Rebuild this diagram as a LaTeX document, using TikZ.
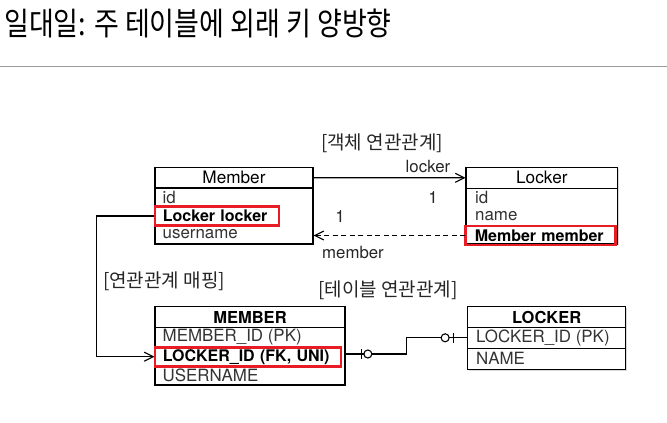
\documentclass[tikz,border=0pt]{standalone}
\usepackage{fontspec}
\setmainfont{TeX Gyre Heros}
\newfontfamily\kofont{Noto Sans CJK KR}
\usepackage{xcolor}
\usepackage{tikz}
\usetikzlibrary{arrows.meta,positioning,calc,shadows}

\definecolor{hlred}{RGB}{232,28,36}
\definecolor{rulegray}{RGB}{155,155,155}

\begin{document}
\begin{tikzpicture}[
  x=1pt, y=-1pt,
  >={Straight Barb[length=9pt,width=9pt]},
  box/.style={draw=black, line width=1.1pt, fill=white, inner sep=0pt,
    drop shadow={shadow xshift=1.2pt, shadow yshift=-1.4pt, opacity=0.3}},
  head/.style={box, font=\fontsize{17.2}{19}\selectfont},
  field/.style={anchor=west, inner sep=0pt, font=\fontsize{16.9}{19}\selectfont, text=black!80},
  hl/.style={anchor=west, draw=hlred, line width=2.6pt, inner xsep=8pt, inner ysep=0pt,
    minimum height=19pt, align=left, font=\fontsize{16}{18}\selectfont\bfseries},
  label/.style={inner sep=0pt, font=\fontsize{16.8}{19}\selectfont, text=black!85},
  kolabel/.style={inner sep=0pt, font=\kofont\fontsize{19}{22}\selectfont, text=black!85},
  assoc/.style={->, line width=1.1pt},
  link/.style={line width=1.1pt}
]
\useasboundingbox (0,0) rectangle (667,423);

% Titel und Trennlinie
\node[anchor=west, inner sep=0pt, font=\kofont\fontsize{27}{32}\selectfont] (title) at (4,23) {\scalebox{1}[1.18]{일대일: 주 테이블에 외래 키 양방향}};
\draw[rulegray, line width=1pt] (0,66) -- (667,66);

% Objekt-Seite: Member
\node[head, minimum width=158pt, minimum height=20.7pt] (memberHead) at (234,177.7) {Member};
\node[box, minimum width=158pt, minimum height=56pt] (memberBody) at (234,216) {};
\node[field] (memberId) at (162.5,197.7) {id};
\node[hl, text width=108pt] (memberLocker) at (153.5,216) {Locker locker};
\node[field] (memberName) at (162.5,234.5) {username};

% Objekt-Seite: Locker
\node[head, minimum width=151.7pt, minimum height=21pt] (lockerHead) at (541.85,177.8) {Locker};
\node[box, minimum width=151.7pt, minimum height=55.7pt] (lockerBody) at (541.85,216.15) {};
\node[field] (lockerId) at (475,197.7) {id};
\node[field] (lockerName) at (475,216) {name};
\node[hl, inner xsep=9.5pt, text width=131pt] (lockerMember) at (464,235.5) {Member member};

% Objekt-Assoziationen
\node[kolabel] (objLabel) at (382,143) {[객체 연관관계]};
\draw[assoc] (memberHead.east) -- (lockerHead.west);
\node[label] (lblLocker) at (428,166.5) {locker};
\node[label] (lblOneA) at (433,197.7) {1};
\draw[assoc, dash pattern=on 5pt off 3.5pt] (lockerBody.west |- lockerMember.center) -- (memberBody.east |- lockerMember.center);
\node[label] (lblOneB) at (340,216.7) {1};
\node[label] (lblMember) at (353,253) {member};

% Tabellen-Seite: MEMBER
\node[head, font=\fontsize{16.5}{18}\selectfont\bfseries, minimum width=190pt, minimum height=20.6pt] (memberTblHead) at (250,317) {MEMBER};
\node[box, minimum width=190pt, minimum height=57.7pt] (memberTblBody) at (250,356.15) {};
\node[field] (memberPk) at (162.5,336.7) {MEMBER\_ID (PK)};
\node[hl, text width=170pt] (memberFk) at (153.5,356.7) {LOCKER\_ID (FK, UNI)};
\node[field] (memberUser) at (162.5,375.5) {USERNAME};

% Tabellen-Seite: LOCKER
\node[head, font=\fontsize{16.5}{18}\selectfont\bfseries, minimum width=158pt, minimum height=20.6pt] (lockerTblHead) at (546.7,317) {LOCKER};
\node[box, minimum width=158pt, minimum height=21pt] (lockerPkRow) at (546.7,337.8) {};
\node[box, minimum width=158pt, minimum height=21pt] (lockerNameRow) at (546.7,358.8) {};
\node[field] (lockerPk) at (476,337.8) {LOCKER\_ID (PK)};
\node[field] (lockerNameCol) at (476,358.8) {NAME};

% Abbildung zwischen Objekt und Tabelle
\node[kolabel] (mapLabel) at (164,281.5) {[연관관계 매핑]};
\draw[assoc] (memberBody.west |- memberLocker.center) -- ++(-57.7,0) |- (memberTblBody.west |- memberFk.center);

% Tabellen-Beziehung (1:1, optional)
\node[kolabel] (tblLabel) at (388,290.5) {[테이블 연관관계]};
\draw[link] ([yshift=2.7pt]memberTblBody.east |- memberFk.center) -- ++(61,0) |- (lockerPkRow.west);
\draw[link] ([xshift=15.7pt, yshift=2.7pt]memberTblBody.east |- memberFk.center) ++(0,-5) -- ++(0,10);
\draw[link, fill=white] ([xshift=22.3pt, yshift=2.7pt]memberTblBody.east |- memberFk.center) circle (4pt);
\draw[link] ([xshift=-13.7pt]lockerPkRow.west) ++(0,-5) -- ++(0,10);
\draw[link, fill=white] ([xshift=-22pt]lockerPkRow.west) circle (4pt);

\end{tikzpicture}
\end{document}
